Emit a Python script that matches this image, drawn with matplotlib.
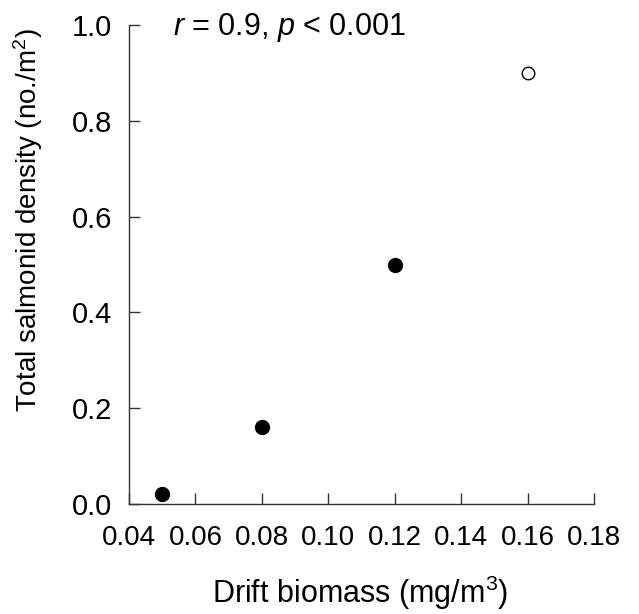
import matplotlib
matplotlib.use("Agg")
import matplotlib.pyplot as plt

plt.rcParams['font.family'] = ['Liberation Sans', 'DejaVu Sans']
plt.rcParams['mathtext.fontset'] = 'custom'
plt.rcParams['mathtext.rm'] = 'Liberation Sans'
plt.rcParams['mathtext.it'] = 'Liberation Sans:italic'

drift_filled = [0.05, 0.08, 0.12]
density_filled = [0.02, 0.16, 0.50]
drift_open = [0.16]
density_open = [0.90]
xticks = [0.04, 0.06, 0.08, 0.10, 0.12, 0.14, 0.16, 0.18]
yticks = [0.0, 0.2, 0.4, 0.6, 0.8, 1.0]

W, H = 639, 614
fig = plt.figure(figsize=(W/100, H/100), dpi=100)
x0, x1, y0, y1 = 129, 594, 25, 504
ax = fig.add_axes([x0/W, 1 - y1/H, (x1-x0)/W, (y1-y0)/H])

ax.plot(drift_filled, density_filled, 'o', color='black', markersize=10, clip_on=False)
ax.plot(drift_open, density_open, 'o', markerfacecolor='white', markeredgecolor='black',
        markersize=9, markeredgewidth=1, clip_on=False)

ax.set_xlim(0.04, 0.18)
ax.set_ylim(0.0, 1.0)
ax.set_xticks(xticks)
ax.set_xticklabels([f"{v:.2f}" for v in xticks])
ax.set_yticks(yticks)
ax.set_yticklabels([f"{v:.1f}" for v in yticks])
for s in ['top', 'right']:
    ax.spines[s].set_visible(False)
for s in ['left', 'bottom']:
    ax.spines[s].set_linewidth(1.0)
    ax.spines[s].set_color('#333333')
ax.tick_params(direction='in', length=8, width=1, color='#333333')
ax.tick_params(axis='x', pad=15, labelsize=20)
ax.tick_params(axis='y', pad=12, labelsize=21)

ax.set_xlabel('Drift biomass (mg/m$^3$)', fontsize=22)
ax.xaxis.set_label_coords((360 - x0)/(x1 - x0), (y1 - 593)/(y1 - y0))
ax.xaxis.label.set_va('center')
ax.set_ylabel('Total salmonid density (no./m$^2$)', fontsize=20)
ax.yaxis.set_label_coords((28 - x0)/(x1 - x0), (y1 - 220)/(y1 - y0))
ax.yaxis.label.set_va('center')
ax.text((173 - x0)/(x1 - x0), (y1 - 27)/(y1 - y0), r'$\it{r}$ = 0.9, $\it{p}$ < 0.001',
        transform=ax.transAxes, fontsize=22, va='center', ha='left')

fig.savefig('out.png', dpi=100)
